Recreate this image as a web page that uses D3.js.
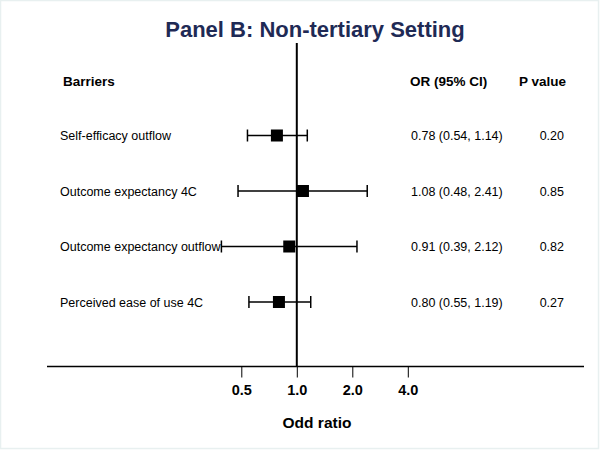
<!DOCTYPE html>
<html>
<head>
<meta charset="utf-8">
<script src="https://cdn.jsdelivr.net/npm/d3@7"></script>
<style>
  body { margin: 0; background: #fff; }
  svg { font-family: "Liberation Sans", Arial, sans-serif; }
</style>
</head>
<body>
<div id="chart"></div>
<script>
// Data
const barriers = ["Self-efficacy outflow", "Outcome expectancy 4C", "Outcome expectancy outflow", "Perceived ease of use 4C"];
const oddsRatio = [0.78, 1.08, 0.91, 0.80];
const ciLower = [0.54, 0.48, 0.39, 0.55];
const ciUpper = [1.14, 2.41, 2.12, 1.19];
const pValues = ["0.20", "0.85", "0.82", "0.27"];
const xTicks = [0.5, 1, 2, 4];

const width = 600, height = 450;

const svg = d3.select("#chart").append("svg")
    .attr("width", width)
    .attr("height", height);

// faint frame around the panel
svg.append("rect")
    .attr("x", 0.5).attr("y", 0.5)
    .attr("width", width - 2).attr("height", height - 2)
    .attr("fill", "#fff")
    .attr("stroke", "#e8f0f0").attr("stroke-width", 1.5);

// log scale, one doubling ~55.5px
const x = d3.scaleLog()
    .domain([0.5, 4])
    .range([241.3, 407.8]);

const y = d3.scalePoint()
    .domain(barriers)
    .range([135.5, 302]);

const axisY = 366.5;

// Title
svg.append("text")
    .attr("x", 315)
    .attr("y", 37)
    .attr("text-anchor", "middle")
    .attr("font-size", "22px")
    .attr("font-weight", "bold")
    .attr("fill", "#1f2a55")
    .text("Panel B: Non-tertiary Setting");

// Column headers
const headerFont = "13.5px";
svg.append("text").attr("x", 63).attr("y", 86)
    .attr("font-size", headerFont).attr("font-weight", "bold").text("Barriers");
svg.append("text").attr("x", 410).attr("y", 86)
    .attr("font-size", headerFont).attr("font-weight", "bold").text("OR (95% CI)");
svg.append("text").attr("x", 519).attr("y", 86)
    .attr("font-size", headerFont).attr("font-weight", "bold").text("P value");

// Reference line at OR = 1
svg.append("line")
    .attr("x1", x(1)).attr("x2", x(1))
    .attr("y1", 43).attr("y2", axisY)
    .attr("stroke", "#000").attr("stroke-width", 2);

// Bottom axis
const axisG = svg.append("g")
    .attr("transform", `translate(0,${axisY})`)
    .call(d3.axisBottom(x).tickValues(xTicks).tickFormat(d3.format(".1f")).tickSize(11).tickPadding(7));
axisG.select(".domain").remove();
axisG.selectAll(".tick line").attr("stroke", "#000").attr("stroke-width", 1);
axisG.selectAll(".tick text")
    .attr("font-size", "14.5px").attr("font-weight", "bold").attr("fill", "#000")
    .attr("font-family", "Liberation Sans, Arial, sans-serif");

svg.append("line")
    .attr("x1", 47).attr("x2", 584)
    .attr("y1", axisY).attr("y2", axisY)
    .attr("stroke", "#000").attr("stroke-width", 1.5);

svg.append("text")
    .attr("x", 317)
    .attr("y", 428)
    .attr("text-anchor", "middle")
    .attr("font-size", "15.5px")
    .attr("font-weight", "bold")
    .text("Odd ratio");

// Rows
const rows = barriers.map((b, i) => ({ b, or: oddsRatio[i], lo: ciLower[i], hi: ciUpper[i], p: pValues[i] }));

const row = svg.selectAll(".row").data(rows).enter().append("g").attr("class", "row");

const bodyFont = "12.5px";

row.append("text")
    .attr("x", 60).attr("y", d => y(d.b) + 4.5)
    .attr("font-size", bodyFont)
    .text(d => d.b);

row.append("line")
    .attr("x1", d => x(d.lo)).attr("x2", d => x(d.hi))
    .attr("y1", d => y(d.b)).attr("y2", d => y(d.b))
    .attr("stroke", "#000").attr("stroke-width", 1.5);

row.selectAll(".cap").data(d => [[d.lo, d.b], [d.hi, d.b]]).enter().append("line")
    .attr("x1", c => x(c[0])).attr("x2", c => x(c[0]))
    .attr("y1", c => y(c[1]) - 6).attr("y2", c => y(c[1]) + 6)
    .attr("stroke", "#000").attr("stroke-width", 1.5);

row.append("rect")
    .attr("x", d => x(d.or) - 6).attr("y", d => y(d.b) - 6)
    .attr("width", 12).attr("height", 12)
    .attr("fill", "#000");

row.append("text")
    .attr("x", 411).attr("y", d => y(d.b) + 4.5)
    .attr("font-size", bodyFont)
    .text(d => `${d.or.toFixed(2)} (${d.lo.toFixed(2)}, ${d.hi.toFixed(2)})`);

row.append("text")
    .attr("x", 564).attr("y", d => y(d.b) + 4.5)
    .attr("text-anchor", "end")
    .attr("font-size", bodyFont)
    .text(d => d.p);
</script>
</body>
</html>
